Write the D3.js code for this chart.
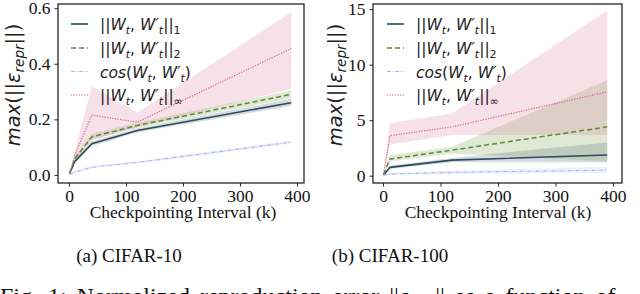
<!DOCTYPE html>
<html>
<head>
<meta charset="utf-8">
<script src="https://cdn.jsdelivr.net/npm/d3@7"></script>
<style>
  body { margin: 0; background: #fff; }
  svg { display: block; }
</style>
</head>
<body>
<div id="chart"></div>
<script>
// checkpointing intervals (k)
var xA = [1, 10, 40, 120, 390];
var xB = [1, 12, 120, 390];

// CIFAR-10
var l1A = [0.005, 0.048, 0.112, 0.160, 0.260];
var l1A_lo = [0.004, 0.043, 0.104, 0.154, 0.248];
var l1A_hi = [0.006, 0.053, 0.120, 0.168, 0.274];
var l2A = [0.005, 0.058, 0.137, 0.178, 0.290];
var l2A_lo = [0.004, 0.051, 0.127, 0.170, 0.276];
var l2A_hi = [0.006, 0.066, 0.147, 0.188, 0.304];
var cosA = [0.002, 0.010, 0.028, 0.045, 0.118];
var cosA_lo = [0.001, 0.007, 0.024, 0.041, 0.112];
var cosA_hi = [0.003, 0.013, 0.032, 0.049, 0.124];
var infA = [0.005, 0.070, 0.215, 0.190, 0.455];
var infA_lo = [0.004, 0.045, 0.125, 0.172, 0.310];
var infA_hi = [0.006, 0.085, 0.320, 0.225, 0.585];

// CIFAR-100
var l1B = [0.05, 0.75, 1.40, 1.86];
var l1B_lo = [0.03, 0.60, 1.20, 1.20];
var l1B_hi = [0.07, 0.90, 1.60, 3.00];
var l2B = [0.10, 1.50, 2.30, 4.40];
var l2B_lo = [0.05, 1.30, 2.00, 1.30];
var l2B_hi = [0.15, 1.85, 2.60, 8.60];
var cosB = [0.05, 0.15, 0.30, 0.50];
var cosB_lo = [0.02, 0.05, 0.15, 0.25];
var cosB_hi = [0.08, 0.25, 0.45, 0.80];
var infB = [0.20, 3.60, 4.40, 7.55];
var infB_lo = [0.10, 2.80, 3.67, 3.67];
var infB_hi = [0.30, 4.75, 5.60, 14.90];

var xTicks = [0, 100, 200, 300, 400];
var yTicksA = [0, 0.2, 0.4, 0.6];
var yTicksB = [0, 5, 10, 15];

var seriesNames = ["l1", "l2", "cos", "inf"];
var colors = { l1: "#2c4a5c", l2: "#5d8a2f", cos: "#a9b5f3", inf: "#d8698a" };
var dashes = { l1: null, l2: "5,3", cos: "4,1.5,1,1.5", inf: "1.3,1.3" };
var widths = { l1: 1.6, l2: 1.5, cos: 1.1, inf: 1.2 };

var svg = d3.select("#chart").append("svg")
  .attr("width", 640).attr("height", 294);

var serif = "'Liberation Serif', 'Times New Roman', serif";
var sans = "'DejaVu Sans', sans-serif";

function drawPanel(p) {
  var x = d3.scaleLinear().domain(p.xDomain).range([p.left, p.right]);
  var y = d3.scaleLinear().domain(p.yDomain).range([p.bottom, p.top]);

  var g = svg.append("g");

  // bands first
  seriesNames.forEach(function (s) {
    var rows = p.xs.map(function (v, i) {
      return { x: v, lo: p.data[s].lo[i], hi: p.data[s].hi[i] };
    });
    g.append("path")
      .datum(rows)
      .attr("d", d3.area().x(d => x(d.x)).y0(d => y(d.lo)).y1(d => y(d.hi)))
      .attr("fill", colors[s])
      .attr("fill-opacity", 0.2);
  });

  seriesNames.forEach(function (s) {
    var rows = p.xs.map(function (v, i) { return { x: v, y: p.data[s].mean[i] }; });
    g.append("path")
      .datum(rows)
      .attr("d", d3.line().x(d => x(d.x)).y(d => y(d.y)))
      .attr("fill", "none")
      .attr("stroke", colors[s])
      .attr("stroke-width", widths[s])
      .attr("stroke-dasharray", dashes[s]);
  });

  // frame
  g.append("rect")
    .attr("x", p.left).attr("y", p.top)
    .attr("width", p.right - p.left).attr("height", p.bottom - p.top)
    .attr("fill", "none").attr("stroke", "#262626").attr("stroke-width", 1.3);

  var xAxis = g.append("g")
    .attr("transform", `translate(0,${p.bottom})`)
    .call(d3.axisBottom(x).tickValues(xTicks).tickSize(3.5).tickPadding(3).tickFormat(d3.format("d")));
  var yAxis = g.append("g")
    .attr("transform", `translate(${p.left},0)`)
    .call(d3.axisLeft(y).tickValues(p.yTicks).tickSize(3.5).tickPadding(4).tickFormat(p.yFormat));
  [xAxis, yAxis].forEach(function (a) {
    a.select(".domain").remove();
    a.selectAll("line").attr("stroke", "#262626").attr("stroke-width", 1);
    a.selectAll("text").attr("font-family", serif).attr("font-size", 17.5).attr("fill", "#111");
  });

  // x label
  g.append("text")
    .attr("x", (x(0) + x(400)) / 2)
    .attr("y", 218)
    .attr("text-anchor", "middle")
    .attr("font-family", serif)
    .attr("font-size", 17.5)
    .attr("fill", "#111")
    .text("Checkpointing Interval (k)");

  // y label (mathtext style)
  var yl = g.append("text")
    .attr("transform", `translate(${p.ylabelX},85) rotate(-90)`)
    .attr("text-anchor", "middle")
    .attr("font-family", sans)
    .attr("font-size", 19.5)
    .attr("fill", "#222");
  yl.append("tspan").attr("font-style", "italic").text("max");
  yl.append("tspan").text("(||");
  yl.append("tspan").attr("font-style", "italic").text("ε");
  yl.append("tspan").attr("font-style", "italic").attr("font-size", 13.5).attr("baseline-shift", -4).text("repr");
  yl.append("tspan").text("||)");

  // legend
  var rowY = [30, 54, 77.5, 101];
  seriesNames.forEach(function (s, i) {
    g.append("line")
      .attr("x1", p.legendX).attr("x2", p.legendX + 17)
      .attr("y1", rowY[i] - 6).attr("y2", rowY[i] - 6)
      .attr("stroke", colors[s])
      .attr("stroke-width", widths[s])
      .attr("stroke-dasharray", dashes[s]);
    var t = g.append("text")
      .attr("x", p.legendX + 29).attr("y", rowY[i])
      .attr("font-family", sans).attr("font-size", 15.5).attr("fill", "#222");
    legendLabel(t, s);
  });
}

function legendLabel(t, s) {
  function it(txt) { return t.append("tspan").attr("font-style", "italic").text(txt); }
  function up(txt) { return t.append("tspan").text(txt); }
  function sub(txt, italic) {
    t.append("tspan").attr("font-size", 11).attr("baseline-shift", -3.5)
      .attr("font-style", italic ? "italic" : null).text(txt);
  }
  if (s === "cos") {
    it("cos"); up("("); it("W"); sub("t", true); up(", "); it("W′"); sub("t", true); up(")");
  } else {
    up("||"); it("W"); sub("t", true); up(", "); it("W′"); sub("t", true); up("||");
    sub(s === "l1" ? "1" : s === "l2" ? "2" : "∞", false);
  }
}

drawPanel({
  xs: xA,
  data: {
    l1: { mean: l1A, lo: l1A_lo, hi: l1A_hi },
    l2: { mean: l2A, lo: l2A_lo, hi: l2A_hi },
    cos: { mean: cosA, lo: cosA_lo, hi: cosA_hi },
    inf: { mean: infA, lo: infA_lo, hi: infA_hi }
  },
  left: 58, right: 304, top: 4, bottom: 183,
  xDomain: [-19.3, 412.3], yDomain: [-0.029, 0.615],
  yTicks: yTicksA, yFormat: d3.format(".1f"),
  ylabelX: 20, legendX: 71
});

drawPanel({
  xs: xB,
  data: {
    l1: { mean: l1B, lo: l1B_lo, hi: l1B_hi },
    l2: { mean: l2B, lo: l2B_lo, hi: l2B_hi },
    cos: { mean: cosB, lo: cosB_lo, hi: cosB_hi },
    inf: { mean: infB, lo: infB_lo, hi: infB_hi }
  },
  left: 373, right: 622, top: 4, bottom: 183,
  xDomain: [-17.4, 415.7], yDomain: [-0.66, 15.47],
  yTicks: yTicksB, yFormat: d3.format("d"),
  ylabelX: 342, legendX: 387
});

// sub-captions
svg.append("text").attr("x", 129).attr("y", 262).attr("text-anchor", "middle")
  .attr("font-family", serif).attr("font-size", 19).attr("fill", "#111").text("(a) CIFAR-10");
svg.append("text").attr("x", 390).attr("y", 262).attr("text-anchor", "middle")
  .attr("font-family", serif).attr("font-size", 19).attr("fill", "#111").text("(b) CIFAR-100");

// figure caption, cut off by the bottom edge (justified line)
var cap = svg.append("text").attr("x", 0).attr("y", 304)
  .attr("font-family", serif).attr("font-size", 24).attr("word-spacing", 4).attr("fill", "#111");
cap.append("tspan").text("Fig. 1: Normalized reproduction error ||");
cap.append("tspan").attr("font-style", "italic").text("ε");
cap.append("tspan").attr("font-size", 16).attr("font-style", "italic").attr("baseline-shift", -3).text("repr");
cap.append("tspan").text("|| as a function of");
</script>
</body>
</html>
